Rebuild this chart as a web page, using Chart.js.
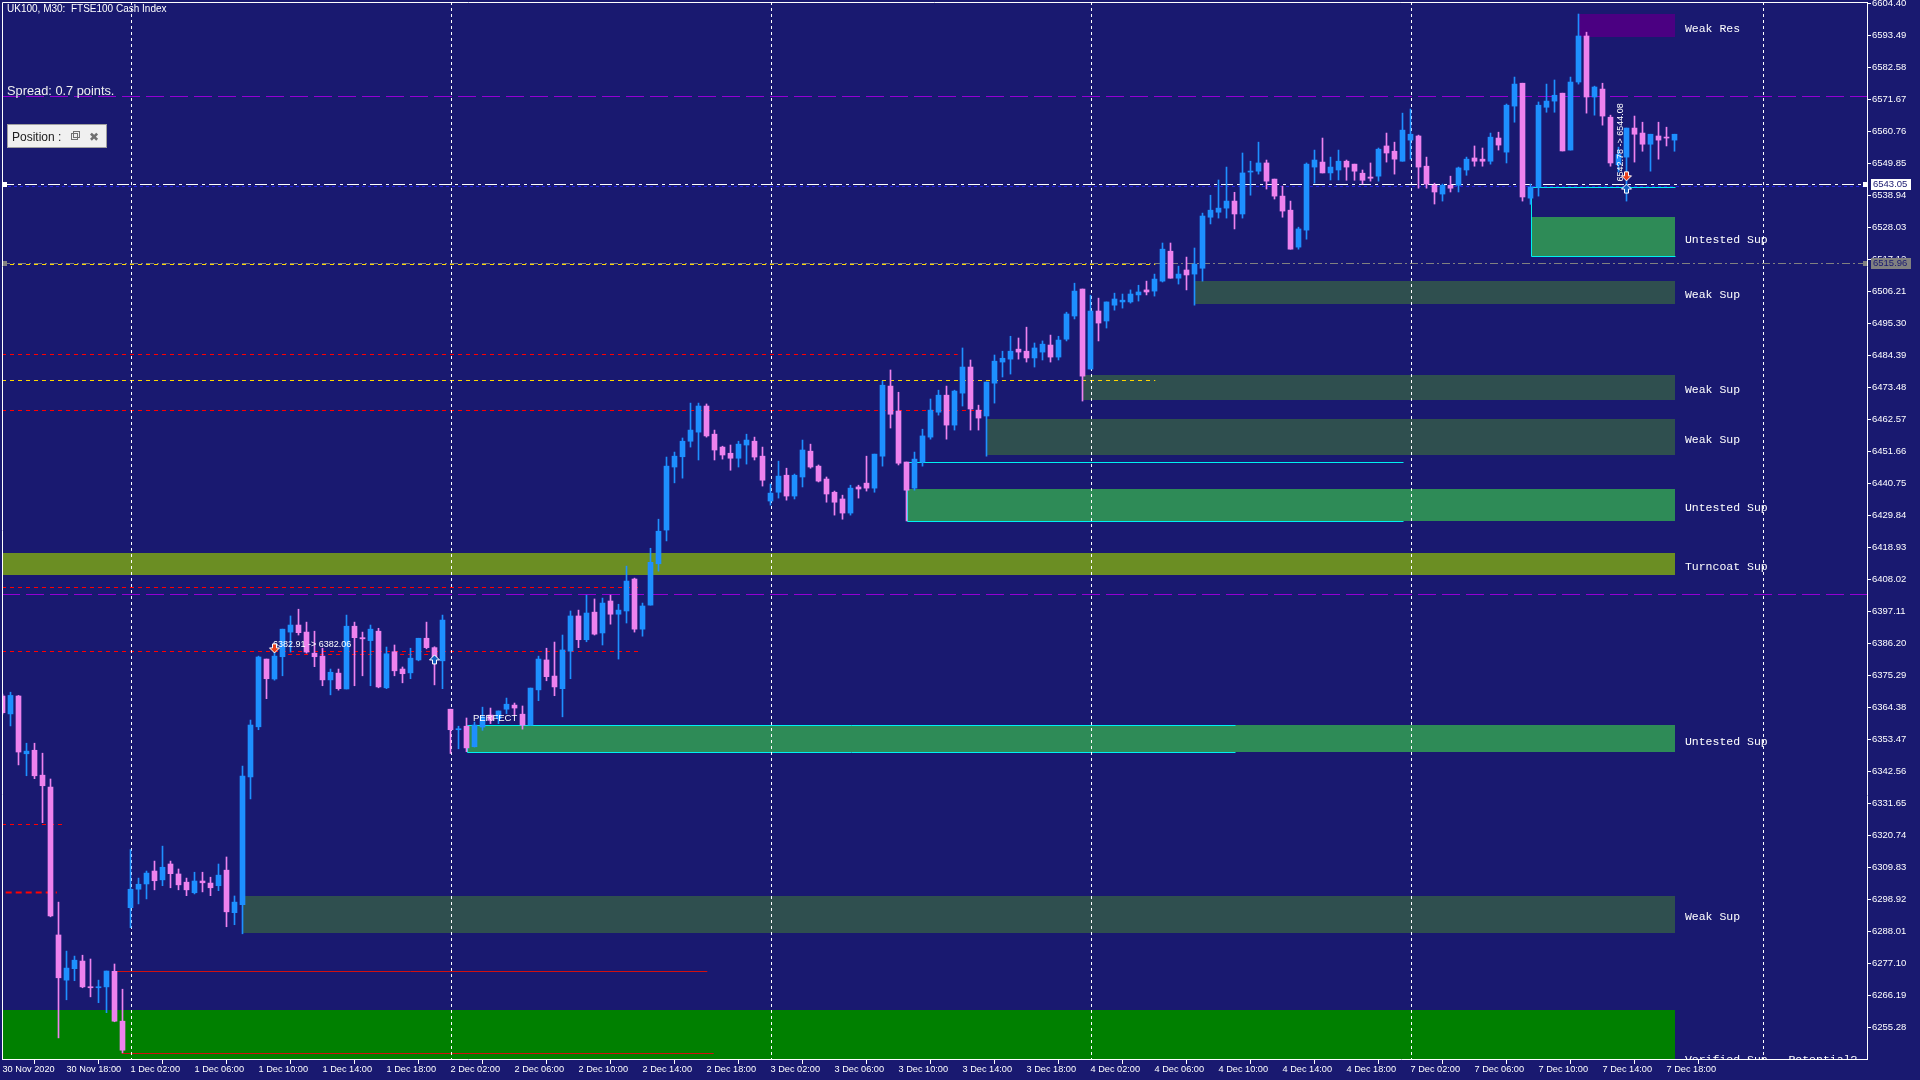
<!DOCTYPE html>
<html>
<head>
<meta charset="utf-8">
<script src="https://cdn.jsdelivr.net/npm/chart.js@4.4.1/dist/chart.umd.min.js"></script>
<style>
  html, body { margin: 0; padding: 0; background: #191970; overflow: hidden; }
  #wrap { width: 1920px; height: 1080px; }
</style>
</head>
<body>
<div id="wrap"><canvas id="chart"></canvas></div>
<script>
// ---- data ----
const timeLabels = ['30 Nov 2020', '30 Nov 18:00', '1 Dec 02:00', '1 Dec 06:00', '1 Dec 10:00', '1 Dec 14:00', '1 Dec 18:00',
  '2 Dec 02:00', '2 Dec 06:00', '2 Dec 10:00', '2 Dec 14:00', '2 Dec 18:00', '3 Dec 02:00', '3 Dec 06:00', '3 Dec 10:00',
  '3 Dec 14:00', '3 Dec 18:00', '4 Dec 02:00', '4 Dec 06:00', '4 Dec 10:00', '4 Dec 14:00', '4 Dec 18:00', '7 Dec 02:00',
  '7 Dec 06:00', '7 Dec 10:00', '7 Dec 14:00', '7 Dec 18:00'];

const priceTicks = [6604.40, 6593.49, 6582.58, 6571.67, 6560.76, 6549.85, 6538.94, 6528.03, 6517.12, 6506.21, 6495.30,
  6484.39, 6473.48, 6462.57, 6451.66, 6440.75, 6429.84, 6418.93, 6408.02, 6397.11, 6386.20, 6375.29, 6364.38, 6353.47,
  6342.56, 6331.65, 6320.74, 6309.83, 6298.92, 6288.01, 6277.10, 6266.19, 6255.28];

const opens = [
  6368.3, 6362.2, 6368.3, 6348.6, 6349.8, 6341.3, 6337.2, 6286.8, 6271.4, 6275.3,
  6277.9, 6269.1, 6268.8, 6269.1, 6274.4, 6257.4, 6296.1, 6302.4, 6304.2, 6308.6,
  6305.6, 6311.0, 6307.6, 6304.8, 6301.2, 6305.2, 6304.5, 6303.6, 6308.9, 6294.4,
  6297.1, 6340.7, 6357.8, 6380.9, 6374.1, 6381.7, 6390.1, 6392.5, 6390.1, 6382.9,
  6381.9, 6373.8, 6376.1, 6370.7, 6392.1, 6388.2, 6387.2, 6390.4, 6371.1, 6383.4,
  6377.5, 6376.2, 6380.6, 6388.0, 6384.8, 6380.3, 6363.8, 6356.8, 6358.0, 6351.0,
  6357.7, 6361.8, 6360.6, 6363.8, 6365.2, 6362.1, 6358.4, 6370.4, 6380.6, 6375.1,
  6370.8, 6383.6, 6395.6, 6387.5, 6396.9, 6389.8, 6400.7, 6396.2, 6397.3, 6408.2,
  6391.1, 6399.3, 6413.4, 6424.9, 6446.4, 6449.9, 6455.2, 6458.3, 6467.2, 6457.6,
  6453.2, 6451.1, 6449.4, 6453.9, 6455.2, 6450.1, 6434.8, 6437.8, 6443.6, 6436.5,
  6443.0, 6451.8, 6446.7, 6442.3, 6437.8, 6435.5, 6430.7, 6439.6, 6440.9, 6439.2,
  6450.1, 6474.0, 6465.5, 6448.1, 6439.2, 6448.1, 6456.6, 6465.1, 6470.9, 6460.7,
  6471.6, 6480.5, 6465.8, 6463.8, 6475.0, 6482.2, 6483.2, 6486.6, 6485.9, 6483.6,
  6485.6, 6488.0, 6483.9, 6490.0, 6497.9, 6507.1, 6479.8, 6499.6, 6496.2, 6501.6,
  6502.7, 6502.7, 6505.1, 6506.8, 6506.4, 6509.8, 6520.0, 6510.8, 6513.6, 6512.2,
  6514.2, 6531.6, 6533.3, 6534.7, 6537.1, 6532.7, 6547.0, 6547.3, 6550.1, 6544.6,
  6538.8, 6534.0, 6521.4, 6527.2, 6548.7, 6550.4, 6546.7, 6547.7, 6550.7, 6549.7,
  6546.6, 6545.3, 6545.6, 6555.9, 6554.1, 6550.7, 6557.9, 6559.3, 6549.0, 6542.5,
  6539.5, 6542.5, 6542.5, 6547.7, 6551.8, 6551.4, 6550.7, 6558.6, 6553.8, 6569.5,
  6577.3, 6538.1, 6541.9, 6569.1, 6571.2, 6573.9, 6554.5, 6577.7, 6593.4, 6572.6,
  6575.3, 6565.7, 6549.5, 6552.1, 6562.0, 6560.3, 6556.5, 6559.3, 6558.9, 6557.9];

const highs = [
  6369.0, 6369.6, 6368.5, 6352.2, 6352.2, 6348.8, 6340.0, 6298.0, 6281.3, 6279.6,
  6279.9, 6278.6, 6271.4, 6274.5, 6276.9, 6268.3, 6315.9, 6306.2, 6308.6, 6312.0,
  6317.1, 6312.0, 6309.3, 6306.2, 6308.2, 6308.2, 6306.5, 6311.0, 6313.4, 6300.1,
  6344.4, 6360.1, 6381.9, 6380.9, 6385.7, 6391.1, 6395.6, 6397.9, 6393.5, 6390.4,
  6384.6, 6377.5, 6377.5, 6395.9, 6393.5, 6390.1, 6392.5, 6391.4, 6385.0, 6385.7,
  6378.2, 6384.6, 6388.0, 6393.5, 6385.1, 6395.9, 6363.8, 6358.0, 6360.8, 6359.4,
  6364.5, 6364.2, 6363.2, 6367.6, 6365.9, 6364.9, 6371.0, 6381.9, 6384.6, 6386.7,
  6389.1, 6397.3, 6397.6, 6402.7, 6401.4, 6401.7, 6402.7, 6399.6, 6412.6, 6408.5,
  6400.0, 6418.7, 6428.6, 6449.8, 6451.5, 6456.3, 6468.2, 6468.2, 6467.9, 6459.0,
  6453.5, 6453.9, 6455.2, 6457.6, 6456.6, 6453.2, 6440.6, 6448.4, 6446.0, 6444.0,
  6455.6, 6454.2, 6447.1, 6443.0, 6438.2, 6436.8, 6440.2, 6440.2, 6450.1, 6450.8,
  6475.7, 6479.5, 6471.9, 6448.1, 6451.5, 6459.3, 6469.6, 6472.6, 6474.0, 6472.6,
  6487.0, 6482.9, 6467.5, 6475.4, 6484.6, 6485.9, 6491.0, 6490.4, 6494.1, 6488.7,
  6489.4, 6491.4, 6491.0, 6499.2, 6509.1, 6507.1, 6505.0, 6504.0, 6502.7, 6505.7,
  6505.4, 6506.8, 6508.4, 6509.8, 6512.2, 6522.8, 6522.8, 6514.9, 6518.0, 6521.1,
  6533.0, 6539.1, 6544.3, 6548.7, 6540.1, 6553.5, 6550.7, 6557.2, 6551.1, 6544.6,
  6542.2, 6537.1, 6528.2, 6550.1, 6554.5, 6558.6, 6552.1, 6554.5, 6551.1, 6549.7,
  6547.7, 6550.1, 6555.2, 6560.3, 6557.2, 6567.1, 6568.5, 6559.6, 6552.1, 6543.2,
  6542.9, 6545.6, 6548.7, 6552.1, 6555.9, 6555.2, 6560.3, 6560.6, 6570.2, 6579.4,
  6577.3, 6542.9, 6570.9, 6577.0, 6578.4, 6573.9, 6579.4, 6600.9, 6594.7, 6576.3,
  6577.3, 6566.4, 6555.5, 6562.0, 6566.1, 6564.0, 6559.9, 6564.0, 6562.3, 6559.9];

const lows = [
  6362.1, 6358.1, 6344.8, 6341.1, 6340.1, 6325.1, 6293.0, 6251.7, 6264.7, 6271.2,
  6268.8, 6265.7, 6263.7, 6260.3, 6257.2, 6246.6, 6289.3, 6297.4, 6299.1, 6302.2,
  6303.6, 6302.9, 6302.2, 6300.2, 6300.8, 6301.5, 6300.2, 6301.9, 6289.6, 6290.3,
  6287.2, 6333.2, 6356.8, 6367.4, 6373.7, 6375.2, 6383.3, 6389.1, 6382.9, 6378.3,
  6371.8, 6368.7, 6370.3, 6370.7, 6371.8, 6375.2, 6371.8, 6371.1, 6370.8, 6375.2,
  6372.8, 6374.2, 6380.3, 6384.4, 6372.1, 6370.8, 6348.7, 6350.3, 6349.3, 6350.9,
  6356.6, 6358.9, 6358.9, 6362.3, 6361.8, 6357.0, 6358.4, 6366.7, 6373.5, 6368.4,
  6361.2, 6374.2, 6384.8, 6386.8, 6389.1, 6385.7, 6392.8, 6380.9, 6393.2, 6390.1,
  6388.7, 6399.3, 6410.9, 6421.2, 6441.0, 6442.6, 6453.2, 6448.8, 6456.6, 6448.8,
  6449.1, 6445.3, 6446.4, 6447.4, 6448.8, 6439.9, 6433.4, 6435.8, 6435.1, 6435.5,
  6439.6, 6446.0, 6441.3, 6434.4, 6430.0, 6428.6, 6430.0, 6435.8, 6438.2, 6437.8,
  6446.7, 6459.7, 6447.1, 6428.0, 6438.5, 6446.7, 6455.9, 6464.1, 6455.9, 6459.0,
  6467.2, 6459.0, 6459.0, 6450.1, 6468.2, 6477.1, 6478.1, 6483.2, 6482.2, 6480.5,
  6482.9, 6482.2, 6482.9, 6489.4, 6496.9, 6468.9, 6479.8, 6489.4, 6493.8, 6499.9,
  6500.6, 6502.3, 6503.0, 6505.1, 6504.7, 6509.5, 6510.8, 6508.8, 6506.8, 6501.6,
  6509.8, 6529.3, 6531.3, 6531.3, 6527.6, 6531.3, 6539.1, 6546.3, 6541.2, 6537.8,
  6531.6, 6520.7, 6520.7, 6524.1, 6543.2, 6546.7, 6544.3, 6544.3, 6544.2, 6544.2,
  6542.9, 6543.9, 6543.9, 6550.4, 6546.3, 6550.7, 6551.4, 6541.5, 6541.5, 6536.1,
  6537.1, 6540.2, 6540.2, 6545.9, 6549.0, 6549.0, 6549.7, 6554.5, 6550.1, 6564.0,
  6537.1, 6536.0, 6538.8, 6567.4, 6567.4, 6554.2, 6554.5, 6577.0, 6567.1, 6566.4,
  6563.0, 6549.0, 6547.0, 6537.1, 6550.4, 6554.1, 6547.3, 6551.4, 6555.9, 6554.1];

const closes = [
  6362.6, 6368.5, 6349.2, 6349.5, 6341.1, 6337.7, 6293.3, 6272.2, 6275.5, 6278.2,
  6269.1, 6268.8, 6269.0, 6274.5, 6257.4, 6247.5, 6302.4, 6304.1, 6307.9, 6305.3,
  6309.9, 6307.7, 6303.9, 6302.2, 6305.2, 6304.6, 6302.9, 6307.2, 6294.7, 6298.0,
  6341.0, 6358.4, 6381.6, 6374.2, 6381.9, 6391.1, 6392.5, 6389.9, 6383.3, 6381.7,
  6373.8, 6376.4, 6370.8, 6392.1, 6388.2, 6387.8, 6391.1, 6371.4, 6382.7, 6376.9,
  6375.9, 6381.2, 6388.0, 6384.8, 6380.8, 6394.2, 6356.8, 6357.1, 6350.6, 6358.4,
  6361.2, 6360.0, 6363.2, 6365.5, 6364.2, 6358.4, 6371.0, 6380.9, 6374.9, 6371.4,
  6384.0, 6395.6, 6387.5, 6396.6, 6389.4, 6400.0, 6396.2, 6397.6, 6407.5, 6391.1,
  6399.0, 6413.9, 6424.5, 6446.7, 6450.1, 6455.2, 6459.0, 6467.2, 6457.0, 6452.2,
  6450.5, 6449.4, 6454.2, 6455.6, 6449.8, 6441.9, 6437.5, 6443.3, 6436.5, 6443.6,
  6452.2, 6446.4, 6441.6, 6437.2, 6434.4, 6430.7, 6439.2, 6438.9, 6439.2, 6450.8,
  6474.3, 6464.4, 6447.7, 6438.5, 6449.1, 6457.0, 6465.8, 6470.9, 6460.7, 6472.3,
  6480.5, 6466.2, 6463.1, 6475.4, 6482.5, 6483.5, 6485.9, 6485.6, 6483.6, 6487.0,
  6488.3, 6483.9, 6489.7, 6498.6, 6506.4, 6477.4, 6499.6, 6495.5, 6502.7, 6503.7,
  6503.3, 6505.4, 6506.1, 6506.1, 6510.5, 6520.7, 6510.8, 6512.2, 6511.9, 6515.6,
  6532.0, 6534.0, 6534.7, 6537.1, 6532.7, 6546.7, 6547.3, 6550.1, 6543.9, 6538.8,
  6533.7, 6520.7, 6527.6, 6549.7, 6551.1, 6546.7, 6548.7, 6550.7, 6548.7, 6547.3,
  6544.2, 6544.9, 6554.8, 6553.5, 6551.4, 6561.3, 6559.9, 6548.7, 6542.9, 6540.2,
  6542.5, 6541.5, 6548.4, 6551.4, 6550.7, 6550.7, 6558.9, 6556.2, 6569.8, 6577.0,
  6538.5, 6541.9, 6569.8, 6571.2, 6573.2, 6554.2, 6577.7, 6593.4, 6572.6, 6576.0,
  6566.1, 6550.1, 6553.0, 6562.0, 6559.9, 6556.5, 6559.9, 6557.9, 6558.6, 6559.9];

// supply / demand zones (null start = from the left edge)
const zoneNames = ['Weak Res', 'Untested Sup', 'Weak Sup', 'Weak Sup', 'Weak Sup', 'Untested Sup', 'Turncoat Sup',
  'Untested Sup', 'Weak Sup', 'Verified Sup - Potential?'];
const zoneTops = [6600.9, 6531.6, 6509.8, 6477.8, 6462.7, 6438.9, 6417.0, 6358.3, 6300.1, 6261.2];
const zoneBottoms = [6593.1, 6518.3, 6502.1, 6469.3, 6450.5, 6428.0, 6409.6, 6349.3, 6287.6, 6229.4];
const zoneStarts = [197, 191, 149, 135, 123, 113, null, 58, 30, null];
const zoneEnd = 209;

// original extent of the untested zones (cyan frames)
const frameTops = [6541.8, 6448.1, 6358.3];
const frameBottoms = [6518.3, 6428.0, 6349.2];
const frameStarts = [191, 113, 58];
const frameEnds = [209, 175, 154];

const dayStarts = [16, 56, 96, 136, 176, 220];

const redLevels = [6484.8, 6466.0, 6405.6, 6383.5, 6382.6, 6324.8];
const redFrom = [null, null, null, null, 34.7, null];
const redTo = [119.4, 122.6, 79.9, 79.9, 53.8, 7.8];
const boldRedLevels = [6301.3];
const boldRedFrom = [0.4];
const boldRedTo = [6.8];
const yellowLevels = [6515.6, 6476.0];
const yellowTo = [144.1, 144.1];
const solidRedLevels = [6274.5, 6246.4];
const solidRedFrom = [13.9, 14.9];
const solidRedTo = [88.1, 88.9];
const purpleLevels = [6573.1, 6403.1];
const bidPrice = 6543.05;
const bidShadow = 6542.4;
const markPrice = 6515.96;

const noteTexts = ['6382.91 -> 6382.06', 'PERFECT', '6542.78 -> 6544.08'];
const noteAt = [33.8, 58.8, 202.3];
const notePrice = [6385.7, 6360.8, 6557.1];
const sellAt = [34, 203];
const sellPrice = [6384.7, 6545.7];
const buyAt = [54, 203];
const buyPrice = [6380.6, 6541.2];

// ---- drawing ----
const BG = '#191970';
const UP = '#1E90FF';
const DOWN = '#EE82EE';
const LABEL_AT = 210.3;

const idx = opens.map((_, i) => i);
const candleColors = idx.map(i => closes[i] >= opens[i] ? UP : DOWN);

const crisp = v => Math.round(v) + 0.5;

function hLine(ctx, x, y, price, from, to, color, dash, width) {
  const yy = crisp(y.getPixelForValue(price));
  ctx.beginPath();
  ctx.strokeStyle = color;
  ctx.lineWidth = width || 1;
  ctx.setLineDash(dash || []);
  ctx.moveTo(x.getPixelForValue(from == null ? x.min : from), yy);
  ctx.lineTo(x.getPixelForValue(to == null ? x.max : to), yy);
  ctx.stroke();
}

function zoneColor(name) {
  if (name.startsWith('Weak Res')) return '#4B0082';
  if (name.startsWith('Untested')) return '#2E8B57';
  if (name.startsWith('Turncoat')) return '#6B8E23';
  if (name.startsWith('Verified')) return '#008000';
  return '#2F4F4F';
}

function arrow(ctx, cx, cy, up, fill) {
  const s = up ? 1 : -1;
  ctx.beginPath();
  ctx.moveTo(cx, cy - 5 * s);
  ctx.lineTo(cx + 5, cy);
  ctx.lineTo(cx + 2, cy);
  ctx.lineTo(cx + 2, cy + 4 * s);
  ctx.lineTo(cx - 2, cy + 4 * s);
  ctx.lineTo(cx - 2, cy);
  ctx.lineTo(cx - 5, cy);
  ctx.closePath();
  ctx.setLineDash([]);
  ctx.fillStyle = fill;
  ctx.fill();
  ctx.strokeStyle = '#ffffff';
  ctx.lineWidth = 1;
  ctx.stroke();
}

const mt4Plugin = {
  id: 'mt4',
  beforeDraw(chart) {
    const ctx = chart.ctx;
    ctx.save();
    ctx.fillStyle = BG;
    ctx.fillRect(0, 0, chart.width, chart.height);
    ctx.restore();
  },
  beforeDatasetsDraw(chart) {
    const { ctx, chartArea: a, scales: { x, y } } = chart;
    ctx.save();
    ctx.beginPath();
    ctx.rect(a.left, a.top, a.right - a.left, a.bottom - a.top);
    ctx.clip();

    // zones
    zoneNames.forEach((name, k) => {
      const x0 = Math.round(x.getPixelForValue(zoneStarts[k] == null ? x.min : zoneStarts[k]));
      const x1 = Math.round(x.getPixelForValue(zoneEnd));
      const y0 = Math.round(y.getPixelForValue(zoneTops[k]));
      const y1 = Math.round(y.getPixelForValue(zoneBottoms[k]));
      ctx.fillStyle = zoneColor(name);
      ctx.fillRect(x0, y0, x1 - x0, y1 - y0);
    });
    // cyan frames of the untested zones (open on the right)
    ctx.strokeStyle = '#00F0F0';
    ctx.lineWidth = 1;
    ctx.setLineDash([]);
    frameTops.forEach((t, k) => {
      const x0 = crisp(x.getPixelForValue(frameStarts[k]));
      const x1 = crisp(x.getPixelForValue(frameEnds[k]));
      const y0 = crisp(y.getPixelForValue(t));
      const y1 = crisp(y.getPixelForValue(frameBottoms[k]));
      ctx.beginPath();
      ctx.moveTo(x1, y0);
      ctx.lineTo(x0, y0);
      ctx.lineTo(x0, y1);
      ctx.lineTo(x1, y1);
      ctx.stroke();
    });

    // levels
    purpleLevels.forEach(p => hLine(ctx, x, y, p, null, null, '#9400D3', [18, 6], 1));
    redLevels.forEach((p, k) => hLine(ctx, x, y, p, redFrom[k], redTo[k], '#FF0000', [4, 4], 1));
    boldRedLevels.forEach((p, k) => hLine(ctx, x, y, p, boldRedFrom[k], boldRedTo[k], '#FF0000', [6, 4], 2));
    solidRedLevels.forEach((p, k) => hLine(ctx, x, y, p, solidRedFrom[k], solidRedTo[k], '#D01010', [], 1));
    hLine(ctx, x, y, markPrice, null, null, '#808080', [8, 3, 2, 3], 1);
    yellowLevels.forEach((p, k) => hLine(ctx, x, y, p, null, yellowTo[k], '#FFD700', [4, 4], 1));
    hLine(ctx, x, y, bidShadow, null, null, '#2020E0', [3, 3], 1);
    hLine(ctx, x, y, bidPrice, null, null, '#FFFFFF', [12, 4, 3, 4], 1);

    // day separators
    ctx.strokeStyle = '#FFFFFF';
    ctx.setLineDash([3, 3]);
    ctx.lineWidth = 1;
    dayStarts.forEach(d => {
      const xx = crisp(x.getPixelForValue(d));
      ctx.beginPath();
      ctx.moveTo(xx, a.top);
      ctx.lineTo(xx, a.bottom);
      ctx.stroke();
    });
    ctx.restore();
  },
  afterDatasetsDraw(chart) {
    const { ctx, chartArea: a, scales: { x, y } } = chart;
    ctx.save();
    ctx.beginPath();
    ctx.rect(a.left, a.top, a.right - a.left, a.bottom - a.top);
    ctx.clip();

    // zone labels
    ctx.fillStyle = '#FFFFFF';
    ctx.font = "11.5px 'Liberation Mono'";
    ctx.textBaseline = 'middle';
    ctx.textAlign = 'left';
    zoneNames.forEach((name, k) => {
      const yy = y.getPixelForValue((zoneTops[k] + zoneBottoms[k]) / 2) + 3;
      ctx.fillText(name, x.getPixelForValue(LABEL_AT), yy);
    });

    // trade notes
    ctx.font = "9px 'Liberation Sans'";
    ctx.fillText(noteTexts[0], x.getPixelForValue(noteAt[0]), y.getPixelForValue(notePrice[0]));
    ctx.font = "9.5px 'Liberation Sans'";
    ctx.fillText(noteTexts[1], x.getPixelForValue(noteAt[1]), y.getPixelForValue(notePrice[1]));
    ctx.save();
    ctx.translate(x.getPixelForValue(noteAt[2]), y.getPixelForValue(notePrice[2]));
    ctx.rotate(-Math.PI / 2);
    ctx.font = "9px 'Liberation Sans'";
    ctx.textAlign = 'center';
    ctx.fillText(noteTexts[2], 0, 0);
    ctx.restore();

    sellAt.forEach((v, k) => arrow(ctx, x.getPixelForValue(v), y.getPixelForValue(sellPrice[k]), false, '#E8401C'));
    buyAt.forEach((v, k) => arrow(ctx, x.getPixelForValue(v), y.getPixelForValue(buyPrice[k]), true, '#1060C0'));
    ctx.restore();
  },
  afterDraw(chart) {
    const { ctx, chartArea: a, scales: { y } } = chart;
    ctx.save();
    ctx.setLineDash([]);
    // frame
    ctx.strokeStyle = '#FFFFFF';
    ctx.lineWidth = 1;
    ctx.beginPath();
    ctx.moveTo(a.left + 0.5, a.bottom);
    ctx.lineTo(a.left + 0.5, a.top + 0.5);
    ctx.lineTo(a.right, a.top + 0.5);
    ctx.stroke();

    // price boxes on the axis
    const boxes = [[bidPrice, '#FFFFFF'], [markPrice, '#808080']];
    ctx.font = "9.5px 'Liberation Sans'";
    ctx.textBaseline = 'middle';
    ctx.textAlign = 'left';
    boxes.forEach(([p, c]) => {
      const yy = Math.round(y.getPixelForValue(p));
      ctx.fillStyle = c;
      ctx.fillRect(a.right + 4, yy - 5, 40, 11);
      ctx.fillRect(a.right - 4, yy - 2, 4, 5);
      ctx.fillRect(a.left + 1, yy - 2, 4, 5);
      ctx.fillStyle = BG;
      ctx.fillText(p.toFixed(2), a.right + 6, yy + 0.5);
    });

    // header texts
    ctx.fillStyle = '#FFFFFF';
    ctx.textBaseline = 'alphabetic';
    ctx.font = "10px 'Liberation Sans'";
    ctx.fillText('UK100, M30:  FTSE100 Cash Index', 7, 12);
    ctx.fillStyle = '#F0F0F0';
    ctx.font = "12.8px 'Liberation Sans'";
    ctx.fillText('Spread: 0.7 points.', 7, 95);

    // panel button
    ctx.fillStyle = '#F0F0F0';
    ctx.fillRect(7, 124, 100, 24);
    ctx.strokeStyle = '#A0A0A0';
    ctx.strokeRect(7.5, 124.5, 99, 23);
    ctx.fillStyle = '#202020';
    ctx.font = "12px 'Liberation Sans'";
    ctx.fillText('Position :', 12, 141);
    ctx.strokeStyle = '#707070';
    ctx.strokeRect(71.5, 133.5, 6, 6);
    ctx.strokeRect(73.5, 131.5, 6, 6);
    ctx.fillStyle = '#707070';
    ctx.font = "12px 'DejaVu Sans'";
    ctx.fillText('\u2716', 89, 141);
    ctx.restore();
  }
};

new Chart(document.getElementById('chart'), {
  type: 'bar',
  data: {
    datasets: [
      {
        label: 'wick',
        data: idx.map(i => ({ x: i, y: [lows[i], highs[i]] })),
        backgroundColor: candleColors,
        borderWidth: 0,
        barThickness: 1,
        grouped: false
      },
      {
        label: 'body',
        data: idx.map(i => ({ x: i, y: [opens[i], closes[i]] })),
        backgroundColor: candleColors,
        borderWidth: 0,
        barThickness: 5,
        minBarLength: 1,
        grouped: false
      }
    ]
  },
  options: {
    responsive: true,
    maintainAspectRatio: false,
    animation: false,
    devicePixelRatio: 1,
    events: [],
    layout: { padding: { left: 2, top: 2, right: 0, bottom: 0 } },
    plugins: { legend: { display: false }, tooltip: { enabled: false } },
    scales: {
      x: {
        type: 'linear',
        offset: false,
        min: -0.0625,
        max: 233.0625,
        afterBuildTicks: s => { s.ticks = timeLabels.map((t, k) => ({ value: k * 8 })); },
        afterFit: s => { s.height = 21; s.paddingLeft = 0; s.paddingRight = 0; },
        grid: { drawOnChartArea: false, drawTicks: true, tickLength: 5, color: '#FFFFFF' },
        border: { display: true, color: '#FFFFFF', width: 1 },
        ticks: {
          autoSkip: false, maxRotation: 0, minRotation: 0, align: 'start', padding: 0,
          color: '#FFFFFF',
          font: { family: "'Liberation Sans'", size: 9.2 },
          callback: (v, k) => timeLabels[k]
        }
      },
      y: {
        position: 'right',
        min: 6244.5,
        max: 6605.0,
        afterBuildTicks: s => { s.ticks = priceTicks.map(v => ({ value: v })); },
        afterFit: s => { s.width = 53; s.paddingTop = 0; s.paddingBottom = 0; },
        grid: { drawOnChartArea: false, drawTicks: true, tickLength: 4, color: '#FFFFFF' },
        border: { display: true, color: '#FFFFFF', width: 1 },
        ticks: {
          autoSkip: false, padding: 1, crossAlign: 'near',
          color: '#FFFFFF',
          font: { family: "'Liberation Sans'", size: 9.5 },
          callback: v => Number(v).toFixed(2)
        }
      }
    }
  },
  plugins: [mt4Plugin]
});
</script>
</body>
</html>
